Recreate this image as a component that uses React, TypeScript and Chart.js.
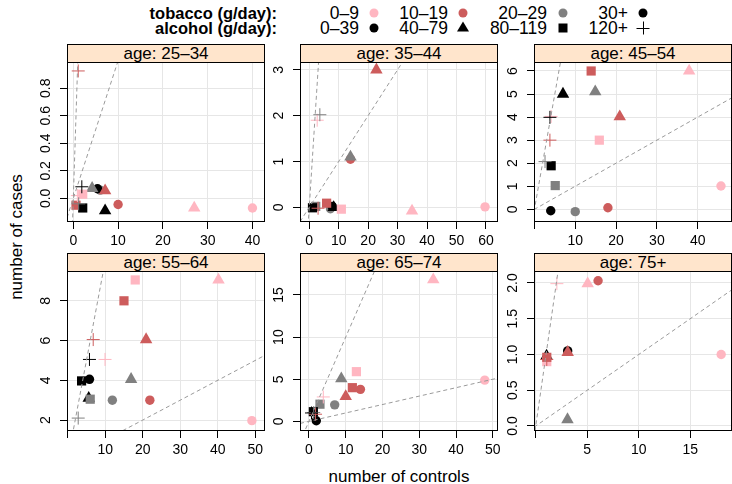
import React, { useEffect, useRef } from "react";
import { Chart, registerables } from "chart.js";

Chart.register(...registerables);

const FONT = "'Liberation Sans', Arial, Helvetica, sans-serif";

// ---- categories ----
const ageGroups = ["25–34", "35–44", "45–54", "55–64", "65–74", "75+"];
const tobaccoLevels = ["0–9", "10–19", "20–29", "30+"];
const alcoholLevels = ["0–39", "40–79", "80–119", "120+"];
const tobaccoColors = ["#FFB6C1", "#CD5C5C", "#808080", "#000000"];
const alcoholStyles = ["circle", "triangle", "rect", "cross"];
const refSlopes = [1, 0.1];

// ---- data (jittered controls / cases), per age group ----
const alc2534 = [0, 0, 0, 0, 1, 1, 1, 1, 2, 2, 2, 3, 3, 3, 3];
const tob2534 = [0, 1, 2, 3, 0, 1, 2, 3, 0, 1, 3, 0, 1, 2, 3];
const controls2534 = [40.0, 10.0, 6.0, 5.4, 27.0, 7.1, 4.2, 7.1, 2.1, 0.6, 2.1, 0.9, 1.1, 1.2, 1.9];
const cases2534 = [-0.07, -0.045, 0.06, 0.07, -0.07, 0.055, 0.073, -0.09, 0.03, -0.05, -0.07, 0.02, 0.926, -0.04, 0.084];

const alc3544 = [0, 0, 0, 0, 1, 1, 1, 1, 2, 2, 2, 2, 3, 3, 3];
const tob3544 = [0, 1, 2, 3, 0, 1, 2, 3, 0, 1, 2, 3, 0, 1, 2];
const controls3544 = [59.7, 14.0, 7.2, 7.8, 34.9, 22.8, 14.0, 8.3, 10.9, 5.9, 2.2, 1.1, 2.7, 3.0, 3.6];
const cases3544 = [0.01, 1.05, -0.03, 0.02, -0.08, 3.0, 1.1, 0.0, -0.04, 0.09, 0.02, -0.01, 1.9, -0.02, 2.02];

const alc4554 = [0, 0, 0, 0, 1, 1, 1, 1, 2, 2, 2, 2, 3, 3, 3, 3];
const tob4554 = [0, 1, 2, 3, 0, 1, 2, 3, 0, 1, 2, 3, 0, 1, 2, 3];
const controls4554 = [45.7, 18.0, 10.0, 4.0, 37.9, 20.9, 14.9, 7.0, 15.9, 13.9, 5.1, 4.1, 4.1, 3.8, 2.6, 3.8];
const cases4554 = [1.01, 0.07, -0.1, -0.06, 6.0, 4.02, 5.1, 5.0, 3.0, 6.0, 1.03, 1.89, 4.03, 3.0, 2.07, 3.99];

const alc5564 = [0, 0, 0, 0, 1, 1, 1, 1, 2, 2, 2, 2, 3, 3, 3, 3];
const tob5564 = [0, 1, 2, 3, 0, 1, 2, 3, 0, 1, 2, 3, 0, 1, 2, 3];
const controls5564 = [49.1, 21.9, 11.9, 5.8, 40.2, 20.9, 16.9, 5.6, 18.0, 15.0, 6.0, 3.7, 9.95, 6.8, 2.8, 5.8];
const cases5564 = [1.97, 3.0, 3.0, 4.05, 9.05, 6.05, 4.05, 3.1, 9.05, 8.0, 3.05, 3.97, 5.05, 6.05, 2.1, 5.05];

const alc6574 = [0, 0, 0, 0, 1, 1, 1, 2, 2, 2, 2, 3, 3, 3, 3];
const tob6574 = [0, 1, 2, 3, 0, 1, 2, 0, 1, 2, 3, 0, 1, 2, 3];
const controls6574 = [47.8, 14.0, 7.0, 2.0, 33.8, 10.0, 8.8, 12.9, 11.8, 3.0, 1.2, 3.9, 1.8, 1.3, 0.7];
const cases6574 = [4.9, 3.8, 1.96, 0.07, 16.8, 2.95, 5.07, 5.9, 4.0, 2.04, 1.15, 2.9, 0.85, 1.05, 1.0];

const alc75 = [0, 0, 0, 1, 1, 1, 1, 2, 2, 3, 3];
const tob75 = [0, 1, 3, 0, 1, 2, 3, 0, 1, 0, 1];
const controls75 = [18.0, 6.05, 3.1, 5.04, 3.1, 3.08, 1.05, 1.07, 1.07, 2.05, 1.07];
const cases75 = [1.0, 2.03, 1.05, 1.99, 1.03, 0.09, 0.98, 0.9, 0.96, 1.99, 0.93];

// ---- axis limits and ticks ----
const xMin = [-1.41, -3.14, -0.1, -0.19, -2.43, -0.17];
const xMax = [42.8, 64.1, 48.4, 52.6, 51.4, 19.05];
const yMin = [-0.172, -0.32, -0.55, 1.45, -1.14, -0.07];
const yMax = [0.991, 3.17, 6.39, 9.5, 17.84, 2.167];

const xTicks = [
  [0, 10, 20, 30, 40],
  [0, 10, 20, 30, 40, 50, 60],
  [0, 10, 20, 30, 40],
  [0, 10, 20, 30, 40, 50],
  [0, 10, 20, 30, 40, 50],
  [0, 5, 10, 15],
];
const xTickLabels = [
  ["0", "10", "20", "30", "40"],
  ["0", "10", "20", "30", "40", "50", "60"],
  ["", "10", "20", "30", "40"],
  ["", "10", "20", "30", "40", "50"],
  ["0", "10", "20", "30", "40", "50"],
  ["", "5", "10", "15"],
];
const yTicks = [
  [0, 0.2, 0.4, 0.6, 0.8],
  [0, 1, 2, 3],
  [0, 1, 2, 3, 4, 5, 6],
  [2, 4, 6, 8],
  [0, 5, 10, 15],
  [0, 0.5, 1, 1.5, 2],
];
const yTickLabels = [
  ["0.0", "0.2", "0.4", "0.6", "0.8"],
  ["0", "1", "2", "3"],
  ["0", "1", "2", "3", "4", "5", "6"],
  ["2", "4", "6", "8"],
  ["0", "5", "10", "15"],
  ["0.0", "0.5", "1.0", "1.5", "2.0"],
];

const panels = [
  { alc: alc2534, tob: tob2534, x: controls2534, y: cases2534 },
  { alc: alc3544, tob: tob3544, x: controls3544, y: cases3544 },
  { alc: alc4554, tob: tob4554, x: controls4554, y: cases4554 },
  { alc: alc5564, tob: tob5564, x: controls5564, y: cases5564 },
  { alc: alc6574, tob: tob6574, x: controls6574, y: cases6574 },
  { alc: alc75, tob: tob75, x: controls75, y: cases75 },
];

// ---- layout / style ----
const COL_LEFT = [67, 300, 534];
const PANEL_W = 198;
const STRIP_TOP = [44, 253];
const PLOT_TOP = [62, 271];
const PLOT_H = 160;
const Y_AXIS_W = 34;
const X_AXIS_H = 30;
const PAD_TOP = 28;
const PAD_RIGHT = 12;
const TICK_LEN = 7;
const Y_LABEL_OFFSET = 21;
const TICK_FONT = 14;
const STYLE_RADIUS = [4.7, 7.2, 6.5, 6.5];

function widestText(labels: string[], size: number) {
  const c = document.createElement("canvas").getContext("2d");
  if (!c) return 10;
  c.font = `${size}px ${FONT}`;
  let w = 0;
  labels.forEach((l) => (w = Math.max(w, c.measureText(l).width)));
  return w;
}

const boxPlugin = {
  id: "panelBox",
  afterDraw(chart: any) {
    const { ctx, chartArea: a } = chart;
    ctx.save();
    ctx.strokeStyle = "#000";
    ctx.lineWidth = 1;
    ctx.strokeRect(a.left + 0.5, a.top + 0.5, a.right - a.left - 1, a.bottom - a.top - 1);
    ctx.restore();
  },
};

function Panel({ index }: { index: number }) {
  const ref = useRef<HTMLCanvasElement>(null);
  const col = index % 3;
  const row = Math.floor(index / 3);
  const cw = Y_AXIS_W + PANEL_W + PAD_RIGHT;
  const ch = PAD_TOP + PLOT_H + X_AXIS_H;

  useEffect(() => {
    if (!ref.current) return;
    const p = panels[index];
    const pts = p.x.map((x, i) => ({ x, y: p.y[i] }));
    const styles = p.alc.map((a) => alcoholStyles[a]);
    const radii = p.alc.map((a) => STYLE_RADIUS[a]);
    const colors = p.tob.map((t) => tobaccoColors[t]);
    const bw = p.alc.map((a) => (a === 3 ? 1 : 0));
    const x0 = xMin[index];
    const x1 = xMax[index];
    const yPad = Y_LABEL_OFFSET - TICK_LEN - widestText(yTickLabels[index], TICK_FONT) / 2;

    const lineSets = refSlopes.map((s) => ({
      type: "line" as const,
      data: [
        { x: x0, y: s * x0 },
        { x: x1, y: s * x1 },
      ],
      borderColor: "#9a9a9a",
      borderWidth: 1,
      borderDash: [4, 3],
      pointRadius: 0,
      fill: false,
      tension: 0,
      clip: 0,
      order: 0,
    }));

    const grid = {
      color: "#e6e6e6",
      lineWidth: 1,
      drawTicks: true,
      tickLength: TICK_LEN,
      tickColor: "#000",
      tickWidth: 1,
    };

    const chart = new Chart(ref.current, {
      type: "scatter",
      data: {
        datasets: [
          {
            type: "scatter",
            data: pts,
            pointStyle: styles as any,
            pointRadius: radii,
            pointBackgroundColor: colors,
            pointBorderColor: colors,
            pointBorderWidth: bw,
            showLine: false,
            order: 1,
          } as any,
          ...lineSets,
        ],
      },
      options: {
        responsive: false,
        animation: false,
        devicePixelRatio: 1,
        events: [],
        layout: { padding: { top: PAD_TOP, right: PAD_RIGHT, left: 0, bottom: 0 } },
        plugins: { legend: { display: false }, tooltip: { enabled: false }, title: { display: false } },
        scales: {
          x: {
            type: "linear",
            position: "bottom",
            min: x0,
            max: x1,
            afterBuildTicks: (s: any) => {
              s.ticks = xTicks[index].map((v) => ({ value: v }));
            },
            afterFit: (s: any) => {
              s.height = X_AXIS_H;
            },
            ticks: {
              autoSkip: false,
              maxRotation: 0,
              minRotation: 0,
              padding: 4,
              color: "#000",
              font: { family: FONT, size: TICK_FONT },
              callback: (_v: any, i: number) => xTickLabels[index][i],
            },
            grid,
            border: { display: false },
          },
          y: {
            type: "linear",
            position: "left",
            min: yMin[index],
            max: yMax[index],
            afterBuildTicks: (s: any) => {
              s.ticks = yTicks[index].map((v) => ({ value: v }));
            },
            afterFit: (s: any) => {
              s.width = Y_AXIS_W;
            },
            ticks: {
              autoSkip: false,
              minRotation: 90,
              maxRotation: 90,
              crossAlign: "center",
              padding: yPad,
              color: "#000",
              font: { family: FONT, size: TICK_FONT },
              callback: (_v: any, i: number) => yTickLabels[index][i],
            },
            grid,
            border: { display: false },
          },
        },
      } as any,
      plugins: [boxPlugin],
    });
    return () => chart.destroy();
  }, [index]);

  return (
    <>
      <canvas
        ref={ref}
        width={cw}
        height={ch}
        style={{ position: "absolute", left: COL_LEFT[col] - Y_AXIS_W, top: PLOT_TOP[row] - PAD_TOP, width: cw, height: ch }}
      />
      <div
        style={{
          position: "absolute",
          left: COL_LEFT[col],
          top: STRIP_TOP[row],
          width: PANEL_W,
          height: PLOT_TOP[row] - STRIP_TOP[row] + 1,
          boxSizing: "border-box",
          border: "1px solid #000",
          background: "#FFE5CC",
          textAlign: "center",
          fontSize: 17,
          lineHeight: `${PLOT_TOP[row] - STRIP_TOP[row] - 1}px`,
          whiteSpace: "nowrap",
          color: "#000",
        }}
      >
        {`age: ${ageGroups[index]}`}
      </div>
    </>
  );
}

function Symbol({ kind, color, cx, cy }: { kind: number; color: string; cx: number; cy: number }) {
  const s = 16;
  let shape: React.ReactNode = null;
  if (kind === 0) shape = <circle cx={8} cy={8} r={4.5} fill={color} />;
  if (kind === 1) shape = <polygon points="8,1.5 14,11.5 2,11.5" fill={color} />;
  if (kind === 2) shape = <rect x={3.5} y={3.5} width={9} height={9} fill={color} />;
  if (kind === 3)
    shape = (
      <g stroke={color} strokeWidth={1}>
        <line x1={1.5} y1={8.5} x2={14.5} y2={8.5} />
        <line x1={8.5} y1={1.5} x2={8.5} y2={14.5} />
      </g>
    );
  return (
    <svg width={s} height={s} style={{ position: "absolute", left: cx - 8, top: cy - 8 }}>
      {shape}
    </svg>
  );
}

const LEG_ROWS = [13, 28];
const LEG_LABEL_RIGHT = [359, 448, 547, 628];
const LEG_SYM_X = [374, 463, 563, 643];
const LEG_TITLE_RIGHT = 277;

function Legend() {
  const txt = (text: string, right: number, cy: number, bold: boolean) => (
    <div
      key={text + cy}
      style={{
        position: "absolute",
        right: 732 - right,
        top: cy - 10,
        height: 20,
        lineHeight: "20px",
        fontSize: bold ? 16.5 : 17.5,
        fontWeight: bold ? "bold" : "normal",
        whiteSpace: "nowrap",
        color: "#000",
      }}
    >
      {text}
    </div>
  );
  return (
    <>
      {txt("tobacco (g/day):", LEG_TITLE_RIGHT, LEG_ROWS[0], true)}
      {txt("alcohol (g/day):", LEG_TITLE_RIGHT, LEG_ROWS[1], true)}
      {tobaccoLevels.map((l, i) => txt(l, LEG_LABEL_RIGHT[i], LEG_ROWS[0], false))}
      {alcoholLevels.map((l, i) => txt(l, LEG_LABEL_RIGHT[i], LEG_ROWS[1], false))}
      {tobaccoColors.map((c, i) => (
        <Symbol key={"t" + i} kind={0} color={c} cx={LEG_SYM_X[i]} cy={LEG_ROWS[0]} />
      ))}
      {alcoholLevels.map((_l, i) => (
        <Symbol key={"a" + i} kind={i} color="#000" cx={LEG_SYM_X[i]} cy={LEG_ROWS[1]} />
      ))}
    </>
  );
}

export default function App() {
  return (
    <div
      style={{
        position: "absolute",
        left: 0,
        top: 0,
        width: 732,
        height: 484,
        overflow: "hidden",
        background: "#fff",
        fontFamily: FONT,
      }}
    >
      <Legend />
      {ageGroups.map((_a, i) => (
        <Panel key={i} index={i} />
      ))}
      <div
        style={{
          position: "absolute",
          left: 0,
          width: 798,
          top: 466,
          height: 22,
          lineHeight: "22px",
          textAlign: "center",
          fontSize: 17,
          whiteSpace: "nowrap",
        }}
      >
        number of controls
      </div>
      <div
        style={{
          position: "absolute",
          left: 17,
          top: 237,
          transform: "translate(-50%, -50%) rotate(-90deg)",
          fontSize: 17,
          lineHeight: "22px",
          whiteSpace: "nowrap",
        }}
      >
        number of cases
      </div>
    </div>
  );
}
